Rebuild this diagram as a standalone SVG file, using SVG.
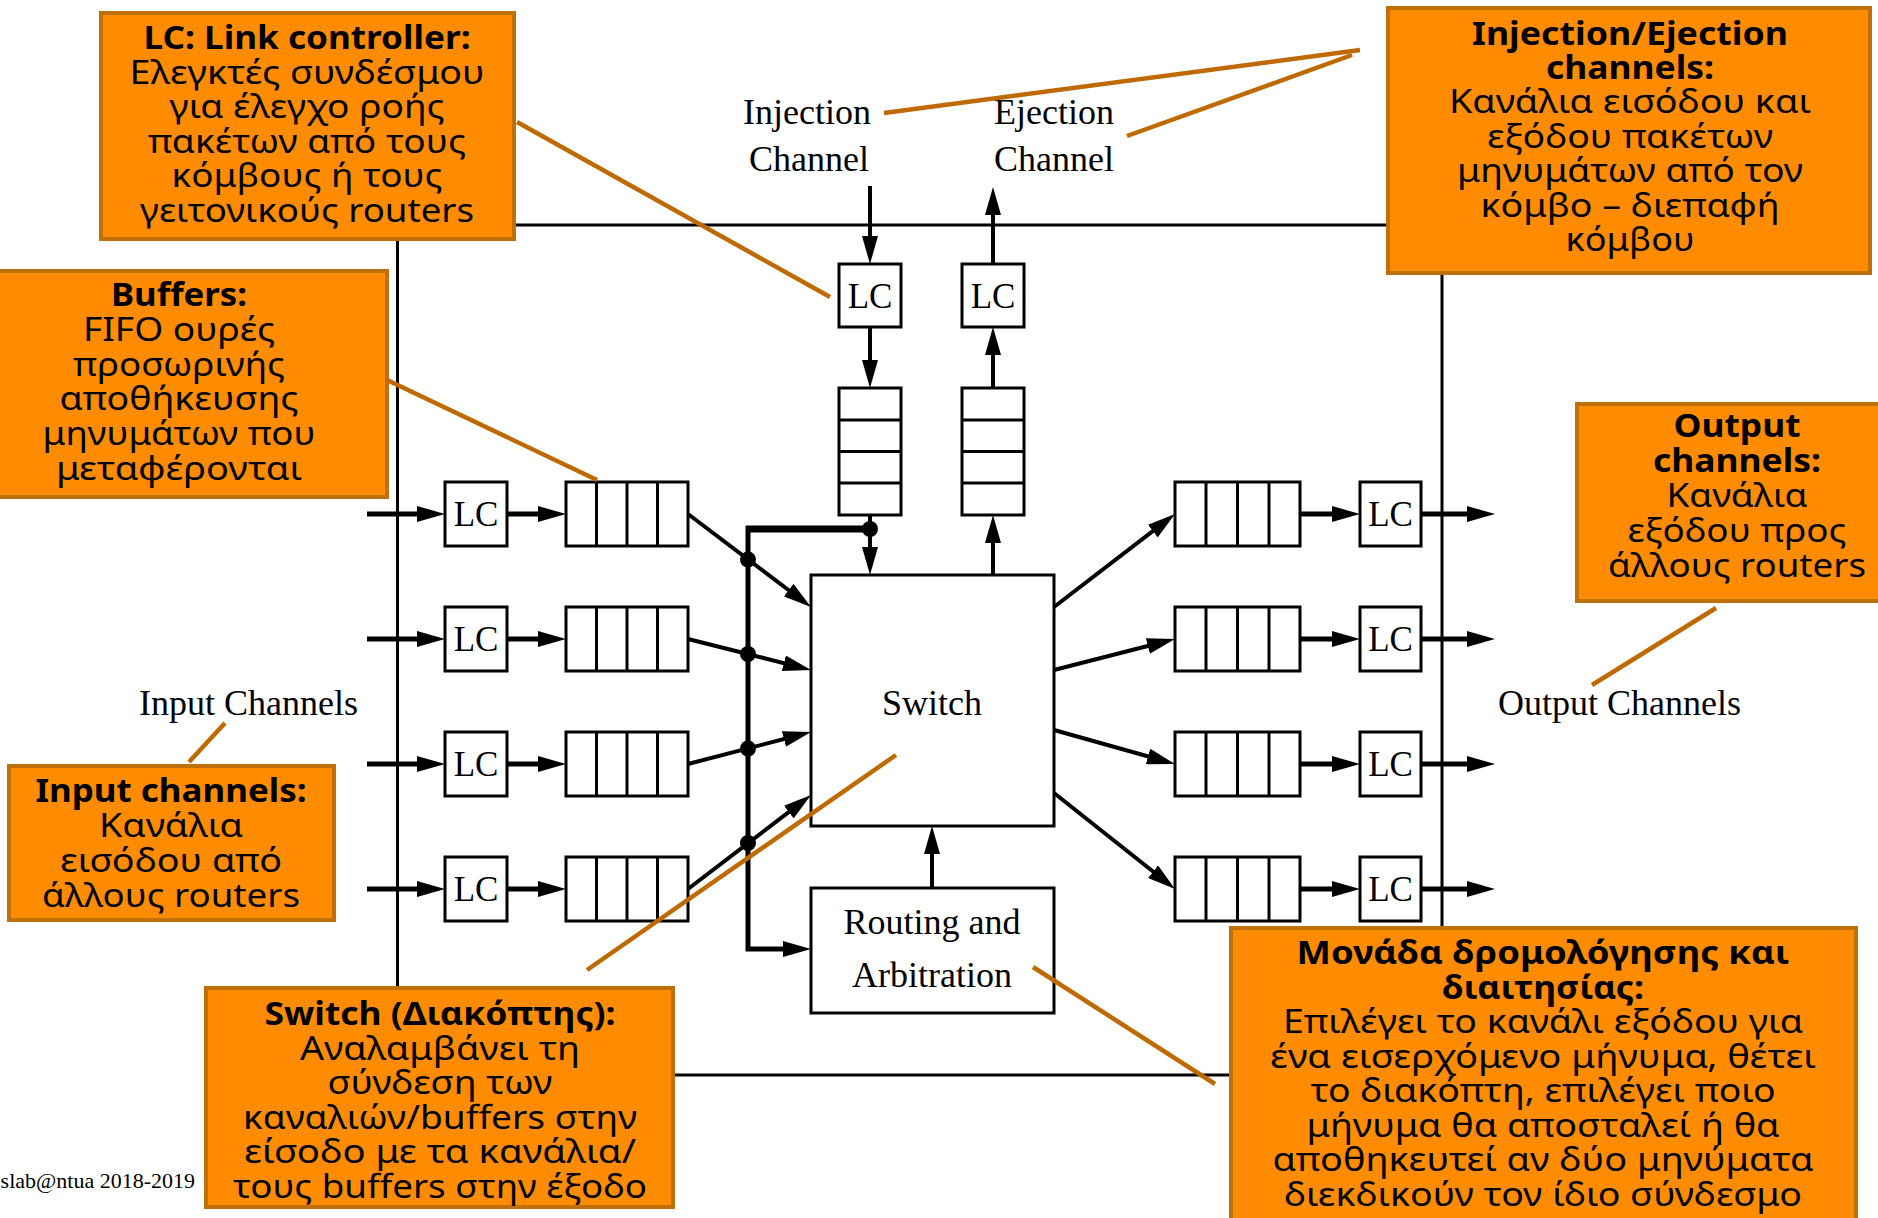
<svg xmlns="http://www.w3.org/2000/svg" width="1878" height="1218" viewBox="0 0 1878 1218">
<style>
.frame{fill:none;stroke:#000;stroke-width:3}
.blk{fill:#fff;stroke:#000;stroke-width:3}
.dv{stroke:#000;stroke-width:3}
.ar{stroke:#000;fill:none;marker-end:url(#ah)}
.w5{stroke-width:5}
.w4{stroke-width:4}
.ser{font-family:"Liberation Serif","Times New Roman",serif;fill:#000}
.lc{font-size:35px;text-anchor:middle}
.lbl{font-size:36px}
.mid{text-anchor:middle}
.note rect{fill:#FF8C00;stroke:#C0700A;stroke-width:4}
.nt{font-family:"Noto Sans","Open Sans",sans-serif;font-size:32px;text-anchor:middle;fill:#000}
.b{font-weight:bold}
.lead{stroke:#BF6A00;stroke-width:4.5;fill:none}
</style>
<defs>
<marker id="ah" markerUnits="userSpaceOnUse" markerWidth="28" markerHeight="16" refX="18" refY="8" orient="auto">
<path d="M0,0 L28,8 L0,16 Z" fill="#000"/>
</marker>
</defs>
<rect width="1878" height="1218" fill="#fff"/>

<g id="router-frame">
<rect class="frame" x="397.5" y="225" width="1044.5" height="850"/>
</g>

<g id="connectors">
<line class="ar w4" x1="870" y1="186" x2="870" y2="254"/>
<line class="ar w4" x1="870" y1="327" x2="870" y2="378"/>
<line class="ar w4" x1="870" y1="515" x2="870" y2="565"/>
<line class="ar w4" x1="993" y1="575" x2="993" y2="525"/>
<line class="ar w4" x1="993" y1="388" x2="993" y2="337"/>
<line class="ar w4" x1="993" y1="264" x2="993" y2="197"/>
<line class="ar w5" x1="367" y1="514" x2="435" y2="514"/>
<line class="ar w5" x1="507" y1="514" x2="556" y2="514"/>
<line class="ar w5" x1="367" y1="639" x2="435" y2="639"/>
<line class="ar w5" x1="507" y1="639" x2="556" y2="639"/>
<line class="ar w5" x1="367" y1="764" x2="435" y2="764"/>
<line class="ar w5" x1="507" y1="764" x2="556" y2="764"/>
<line class="ar w5" x1="367" y1="889" x2="435" y2="889"/>
<line class="ar w5" x1="507" y1="889" x2="556" y2="889"/>
<line class="ar w4" x1="688" y1="514" x2="803" y2="601"/>
<line class="ar w4" x1="688" y1="639" x2="801.3" y2="667.6"/>
<line class="ar w4" x1="688" y1="764" x2="801.3" y2="734.5"/>
<line class="ar w4" x1="688" y1="889" x2="803.1" y2="801.1"/>
<path d="M870,529 H746" fill="none" stroke="#000" stroke-width="7"/>
<path class="ar w5" d="M748,526 V949 H801"/>
<circle cx="748" cy="559.5" r="8" fill="#000"/>
<circle cx="748" cy="654" r="8" fill="#000"/>
<circle cx="748" cy="748.5" r="8" fill="#000"/>
<circle cx="748" cy="843" r="8" fill="#000"/>
<circle cx="870" cy="529" r="8" fill="#000"/>
<line class="ar w4" x1="932" y1="888" x2="932" y2="836"/>
<line class="ar w4" x1="1054" y1="607" x2="1167.1" y2="520.1"/>
<line class="ar w4" x1="1054" y1="670" x2="1165.3" y2="641.5"/>
<line class="ar w4" x1="1054" y1="730" x2="1165.4" y2="761.3"/>
<line class="ar w4" x1="1054" y1="793" x2="1167.2" y2="882.8"/>
<line class="ar w5" x1="1300" y1="514" x2="1350" y2="514"/>
<line class="ar w5" x1="1421" y1="514" x2="1485" y2="514"/>
<line class="ar w5" x1="1300" y1="639" x2="1350" y2="639"/>
<line class="ar w5" x1="1421" y1="639" x2="1485" y2="639"/>
<line class="ar w5" x1="1300" y1="764" x2="1350" y2="764"/>
<line class="ar w5" x1="1421" y1="764" x2="1485" y2="764"/>
<line class="ar w5" x1="1300" y1="889" x2="1350" y2="889"/>
<line class="ar w5" x1="1421" y1="889" x2="1485" y2="889"/>
</g>

<g id="inj-lc"><rect class="blk" x="839" y="264" width="62" height="63"/><text class="ser lc" x="870" y="308">LC</text></g>
<g id="inj-buf"><rect class="blk" x="839" y="388" width="62" height="127"/><line class="dv" x1="839" y1="420" x2="901" y2="420"/><line class="dv" x1="839" y1="451.5" x2="901" y2="451.5"/><line class="dv" x1="839" y1="483" x2="901" y2="483"/></g>
<g id="ej-lc"><rect class="blk" x="962" y="264" width="62" height="63"/><text class="ser lc" x="993" y="308">LC</text></g>
<g id="ej-buf"><rect class="blk" x="962" y="388" width="62" height="127"/><line class="dv" x1="962" y1="420" x2="1024" y2="420"/><line class="dv" x1="962" y1="451.5" x2="1024" y2="451.5"/><line class="dv" x1="962" y1="483" x2="1024" y2="483"/></g>

<g id="in-lc-1"><rect class="blk" x="445" y="482" width="62" height="64"/><text class="ser lc" x="476" y="526">LC</text></g>
<g id="in-lc-2"><rect class="blk" x="445" y="607" width="62" height="64"/><text class="ser lc" x="476" y="651">LC</text></g>
<g id="in-lc-3"><rect class="blk" x="445" y="732" width="62" height="64"/><text class="ser lc" x="476" y="776">LC</text></g>
<g id="in-lc-4"><rect class="blk" x="445" y="857" width="62" height="64"/><text class="ser lc" x="476" y="901">LC</text></g>

<g id="in-buf-1"><rect class="blk" x="566" y="482" width="122" height="64"/><line class="dv" x1="596.5" y1="482" x2="596.5" y2="546"/><line class="dv" x1="627" y1="482" x2="627" y2="546"/><line class="dv" x1="657.5" y1="482" x2="657.5" y2="546"/></g>
<g id="in-buf-2"><rect class="blk" x="566" y="607" width="122" height="64"/><line class="dv" x1="596.5" y1="607" x2="596.5" y2="671"/><line class="dv" x1="627" y1="607" x2="627" y2="671"/><line class="dv" x1="657.5" y1="607" x2="657.5" y2="671"/></g>
<g id="in-buf-3"><rect class="blk" x="566" y="732" width="122" height="64"/><line class="dv" x1="596.5" y1="732" x2="596.5" y2="796"/><line class="dv" x1="627" y1="732" x2="627" y2="796"/><line class="dv" x1="657.5" y1="732" x2="657.5" y2="796"/></g>
<g id="in-buf-4"><rect class="blk" x="566" y="857" width="122" height="64"/><line class="dv" x1="596.5" y1="857" x2="596.5" y2="921"/><line class="dv" x1="627" y1="857" x2="627" y2="921"/><line class="dv" x1="657.5" y1="857" x2="657.5" y2="921"/></g>

<g id="out-buf-1"><rect class="blk" x="1175" y="482" width="125" height="64"/><line class="dv" x1="1206" y1="482" x2="1206" y2="546"/><line class="dv" x1="1237.5" y1="482" x2="1237.5" y2="546"/><line class="dv" x1="1269" y1="482" x2="1269" y2="546"/></g>
<g id="out-buf-2"><rect class="blk" x="1175" y="607" width="125" height="64"/><line class="dv" x1="1206" y1="607" x2="1206" y2="671"/><line class="dv" x1="1237.5" y1="607" x2="1237.5" y2="671"/><line class="dv" x1="1269" y1="607" x2="1269" y2="671"/></g>
<g id="out-buf-3"><rect class="blk" x="1175" y="732" width="125" height="64"/><line class="dv" x1="1206" y1="732" x2="1206" y2="796"/><line class="dv" x1="1237.5" y1="732" x2="1237.5" y2="796"/><line class="dv" x1="1269" y1="732" x2="1269" y2="796"/></g>
<g id="out-buf-4"><rect class="blk" x="1175" y="857" width="125" height="64"/><line class="dv" x1="1206" y1="857" x2="1206" y2="921"/><line class="dv" x1="1237.5" y1="857" x2="1237.5" y2="921"/><line class="dv" x1="1269" y1="857" x2="1269" y2="921"/></g>

<g id="out-lc-1"><rect class="blk" x="1360" y="482" width="61" height="64"/><text class="ser lc" x="1390.5" y="526">LC</text></g>
<g id="out-lc-2"><rect class="blk" x="1360" y="607" width="61" height="64"/><text class="ser lc" x="1390.5" y="651">LC</text></g>
<g id="out-lc-3"><rect class="blk" x="1360" y="732" width="61" height="64"/><text class="ser lc" x="1390.5" y="776">LC</text></g>
<g id="out-lc-4"><rect class="blk" x="1360" y="857" width="61" height="64"/><text class="ser lc" x="1390.5" y="901">LC</text></g>

<g id="switch"><rect class="blk" x="811" y="575" width="243" height="251"/><text class="ser lbl mid" x="932" y="715">Switch</text></g>
<g id="routing"><rect class="blk" x="811" y="888" width="243" height="125"/><text class="ser lbl mid" x="932" y="934">Routing and</text><text class="ser lbl mid" x="932" y="987">Arbitration</text></g>

<g id="labels">
<text class="ser lbl mid" x="807" y="124">Injection</text>
<text class="ser lbl mid" x="809" y="171">Channel</text>
<text class="ser lbl mid" x="1054" y="124">Ejection</text>
<text class="ser lbl mid" x="1054" y="171">Channel</text>
<text class="ser lbl" x="139" y="715">Input Channels</text>
<text class="ser lbl" x="1498" y="715">Output Channels</text>
<text class="ser" x="195" y="1188" font-size="22" text-anchor="end">cslab@ntua 2018-2019</text>
</g>

<g id="leaders">
<line class="lead" x1="517" y1="122" x2="830" y2="297"/>
<line class="lead" x1="387" y1="380" x2="597" y2="480"/>
<line class="lead" x1="884" y1="113" x2="1360" y2="50"/>
<line class="lead" x1="1127" y1="136" x2="1352" y2="55"/>
<line class="lead" x1="1716" y1="608" x2="1592" y2="685"/>
<line class="lead" x1="225" y1="723" x2="189" y2="762"/>
<line class="lead" x1="896" y1="755" x2="587" y2="970"/>
<line class="lead" x1="1033" y1="967" x2="1215" y2="1084"/>
</g>

<g id="note-lc" class="note">
<rect x="101" y="13" width="413" height="226"/>
<text class="nt b" x="307" y="49" textLength="327" lengthAdjust="spacingAndGlyphs">LC: Link controller:</text>
<text class="nt" x="307" y="83.6" textLength="355" lengthAdjust="spacingAndGlyphs">Ελεγκτές συνδέσμου</text>
<text class="nt" x="307" y="118.2" textLength="275" lengthAdjust="spacingAndGlyphs">για έλεγχο ροής</text>
<text class="nt" x="307" y="152.8" textLength="318" lengthAdjust="spacingAndGlyphs">πακέτων από τους</text>
<text class="nt" x="307" y="187.4" textLength="271" lengthAdjust="spacingAndGlyphs">κόμβους ή τους</text>
<text class="nt" x="307" y="222" textLength="334" lengthAdjust="spacingAndGlyphs">γειτονικούς routers</text>
</g>

<g id="note-buffers" class="note">
<rect x="-4" y="271" width="391" height="226"/>
<text class="nt b" x="179" y="306" textLength="136" lengthAdjust="spacingAndGlyphs">Buffers:</text>
<text class="nt" x="179" y="341" textLength="192" lengthAdjust="spacingAndGlyphs">FIFO ουρές</text>
<text class="nt" x="179" y="376" textLength="212" lengthAdjust="spacingAndGlyphs">προσωρινής</text>
<text class="nt" x="179" y="410" textLength="239" lengthAdjust="spacingAndGlyphs">αποθήκευσης</text>
<text class="nt" x="179" y="445" textLength="273" lengthAdjust="spacingAndGlyphs">μηνυμάτων που</text>
<text class="nt" x="179" y="480" textLength="246" lengthAdjust="spacingAndGlyphs">μεταφέρονται</text>
</g>

<g id="note-injej" class="note">
<rect x="1388" y="8" width="482" height="265"/>
<text class="nt b" x="1630" y="44.5" textLength="316" lengthAdjust="spacingAndGlyphs">Injection/Ejection</text>
<text class="nt b" x="1630" y="79" textLength="168" lengthAdjust="spacingAndGlyphs">channels:</text>
<text class="nt" x="1630" y="113" textLength="362" lengthAdjust="spacingAndGlyphs">Κανάλια εισόδου και</text>
<text class="nt" x="1630" y="148" textLength="286" lengthAdjust="spacingAndGlyphs">εξόδου πακέτων</text>
<text class="nt" x="1630" y="182" textLength="346" lengthAdjust="spacingAndGlyphs">μηνυμάτων από τον</text>
<text class="nt" x="1630" y="216.5" textLength="299" lengthAdjust="spacingAndGlyphs">κόμβο – διεπαφή</text>
<text class="nt" x="1630" y="251" textLength="129" lengthAdjust="spacingAndGlyphs">κόμβου</text>
</g>

<g id="note-output" class="note">
<rect x="1577" y="404" width="310" height="197"/>
<text class="nt b" x="1737" y="437" textLength="127" lengthAdjust="spacingAndGlyphs">Output</text>
<text class="nt b" x="1737" y="472" textLength="168" lengthAdjust="spacingAndGlyphs">channels:</text>
<text class="nt" x="1737" y="507" textLength="141" lengthAdjust="spacingAndGlyphs">Κανάλια</text>
<text class="nt" x="1737" y="542" textLength="219" lengthAdjust="spacingAndGlyphs">εξόδου προς</text>
<text class="nt" x="1737" y="577" textLength="258" lengthAdjust="spacingAndGlyphs">άλλους routers</text>
</g>

<g id="note-input" class="note">
<rect x="9" y="766" width="325" height="154"/>
<text class="nt b" x="171" y="802" textLength="271" lengthAdjust="spacingAndGlyphs">Input channels:</text>
<text class="nt" x="171" y="837" textLength="144" lengthAdjust="spacingAndGlyphs">Κανάλια</text>
<text class="nt" x="171" y="872" textLength="222" lengthAdjust="spacingAndGlyphs">εισόδου από</text>
<text class="nt" x="171" y="907" textLength="258" lengthAdjust="spacingAndGlyphs">άλλους routers</text>
</g>

<g id="note-switch" class="note">
<rect x="206" y="988" width="467" height="219"/>
<text class="nt b" x="440" y="1025" textLength="351" lengthAdjust="spacingAndGlyphs">Switch (Διακόπτης):</text>
<text class="nt" x="440" y="1059.6" textLength="280" lengthAdjust="spacingAndGlyphs">Αναλαμβάνει τη</text>
<text class="nt" x="440" y="1094.2" textLength="225" lengthAdjust="spacingAndGlyphs">σύνδεση των</text>
<text class="nt" x="440" y="1128.8" textLength="394" lengthAdjust="spacingAndGlyphs">καναλιών/buffers στην</text>
<text class="nt" x="440" y="1163.4" textLength="392" lengthAdjust="spacingAndGlyphs">είσοδο με τα κανάλια/</text>
<text class="nt" x="440" y="1198" textLength="414" lengthAdjust="spacingAndGlyphs">τους buffers στην έξοδο</text>
</g>

<g id="note-routing" class="note">
<rect x="1231" y="928" width="625" height="300"/>
<text class="nt b" x="1543" y="964" textLength="493" lengthAdjust="spacingAndGlyphs">Μονάδα δρομολόγησης και</text>
<text class="nt b" x="1543" y="998.5" textLength="202" lengthAdjust="spacingAndGlyphs">διαιτησίας:</text>
<text class="nt" x="1543" y="1033" textLength="520" lengthAdjust="spacingAndGlyphs">Επιλέγει το κανάλι εξόδου για</text>
<text class="nt" x="1543" y="1067.5" textLength="546" lengthAdjust="spacingAndGlyphs">ένα εισερχόμενο μήνυμα, θέτει</text>
<text class="nt" x="1543" y="1102" textLength="465" lengthAdjust="spacingAndGlyphs">το διακόπτη, επιλέγει ποιο</text>
<text class="nt" x="1543" y="1136.5" textLength="473" lengthAdjust="spacingAndGlyphs">μήνυμα θα αποσταλεί ή θα</text>
<text class="nt" x="1543" y="1171" textLength="541" lengthAdjust="spacingAndGlyphs">αποθηκευτεί αν δύο μηνύματα</text>
<text class="nt" x="1543" y="1205.5" textLength="518" lengthAdjust="spacingAndGlyphs">διεκδικούν τον ίδιο σύνδεσμο</text>
</g>
</svg>
